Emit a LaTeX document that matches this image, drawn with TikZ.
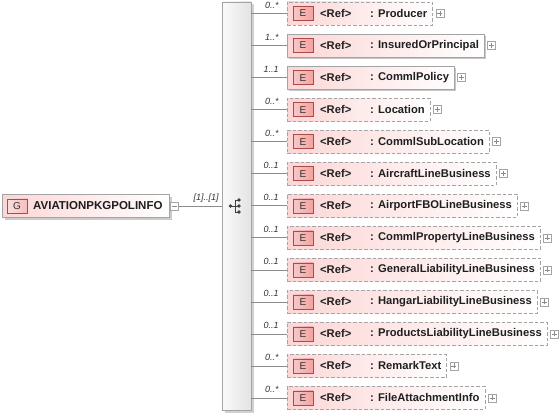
\documentclass[tikz,border=0pt]{standalone}
\usepackage{fontspec}
\setmainfont{Liberation Sans}
\usetikzlibrary{fit,calc,shadows}
\pgfdeclarelayer{background}
\pgfdeclarelayer{canvas}
\pgfsetlayers{canvas,background,main}
\definecolor{boxpink}{HTML}{FCD6D6}
\definecolor{badgefill}{HTML}{F4A2A2}
\definecolor{badgedraw}{HTML}{B04848}
\definecolor{linegray}{HTML}{8C8C8C}
\definecolor{bordergray}{HTML}{A4A4A4}
\tikzset{
  nametext/.style={font=\fontsize{11.2}{13}\selectfont\bfseries, text=black!88, inner sep=0, anchor=west},
  multtext/.style={font=\fontsize{9}{10}\selectfont\itshape, text=black!80, inner sep=0, anchor=south east},
  badge/.style={draw=badgedraw, left color=badgefill!60, right color=badgefill, minimum width=20, minimum height=14, inner sep=0, font=\fontsize{10}{12}\selectfont, text=black!80},
  itembox/.style={inner sep=0, minimum height=23, left color=boxpink, right color=white, draw=bordergray},
  optbox/.style={itembox, dash pattern=on 3.5pt off 2pt},
  reqbox/.style={itembox, drop shadow={shadow xshift=2pt, shadow yshift=-2pt, fill=black!22, opacity=1}},
  pmbox/.style={draw=bordergray, fill=white, minimum size=8, inner sep=0},
  plusbox/.style={pmbox, path picture={
      \draw[black!45] ([xshift=-2.5pt]path picture bounding box.center) -- ([xshift=2.5pt]path picture bounding box.center);
      \draw[black!45] ([yshift=-2.5pt]path picture bounding box.center) -- ([yshift=2.5pt]path picture bounding box.center);}},
  minusbox/.style={pmbox, path picture={
      \draw[black!45] ([xshift=-2.5pt]path picture bounding box.center) -- ([xshift=2.5pt]path picture bounding box.center);}},
  conn/.style={draw=linegray, line width=0.6pt},
  seqbar/.style={draw=bordergray, left color=gray!4, right color=gray!22, minimum width=29, minimum height=408, inner sep=0,
      drop shadow={shadow xshift=2.5pt, shadow yshift=-2.5pt, fill=black!18, opacity=1}},
  groupbox/.style={draw=bordergray, left color=boxpink, right color=white, minimum width=167, minimum height=23, inner sep=0,
      drop shadow={shadow xshift=2.5pt, shadow yshift=-2.5pt, fill=black!20, opacity=1}},
}
\begin{document}
\begin{tikzpicture}[x=1pt,y=-1pt]
\begin{pgfonlayer}{canvas}
  \fill[white] (0,0) rectangle (560,417);
\end{pgfonlayer}
\useasboundingbox (0,0) rectangle (560,417);

% sequence bar
\node[seqbar] (seq) at (236.5,206) {};
% sequence icon
\begin{scope}[black!75]
  \fill (230.5,206) circle (1.8);
  \draw[line width=0.9pt] (230.5,206) -- (235,206);
  \draw[line width=0.9pt] (235,200) -- (235,212);
  \foreach \yy in {200,206,212} {
    \draw[line width=0.9pt] (235,\yy) -- (238.5,\yy);
    \fill (239,\yy) circle (1.8);
  }
\end{scope}

% group node
\node[groupbox] (g) at (85.5,206) {};
\node[badge, left color=badgefill!35, right color=badgefill!70] (gb) at (17,206) {G};
\node[nametext, font=\fontsize{11.5}{13}\selectfont\bfseries] (gt) at (33,206) {AVIATIONPKGPOLINFO};
\node[minusbox] (gm) at (174,206) {};
\draw[conn] (gm.east) -- (seq.west |- gm.east) coordinate (sw);
\node[multtext] (gml) at ($(sw)+(-3,-3)$) {[1]..[1]};

% children
\foreach \i/\nm/\mu/\st in {
  1/Producer/{0..*}/optbox,
  2/InsuredOrPrincipal/{1..*}/reqbox,
  3/CommlPolicy/{1..1}/reqbox,
  4/Location/{0..*}/optbox,
  5/CommlSubLocation/{0..*}/optbox,
  6/AircraftLineBusiness/{0..1}/optbox,
  7/AirportFBOLineBusiness/{0..1}/optbox,
  8/CommlPropertyLineBusiness/{0..1}/optbox,
  9/GeneralLiabilityLineBusiness/{0..1}/optbox,
  10/HangarLiabilityLineBusiness/{0..1}/optbox,
  11/ProductsLiabilityLineBusiness/{0..1}/optbox,
  12/RemarkText/{0..*}/optbox,
  13/FileAttachmentInfo/{0..*}/optbox} {
  \pgfmathsetmacro{\yc}{13.5+32.04*(\i-1)}
  \node[badge] (e\i) at (303,\yc) {E};
  \node[nametext] (r\i) at (320,\yc) {<Ref>};
  \node[nametext] (n\i) at (370,\yc) {: \nm};
  \coordinate (bl\i) at (287,\yc);
  \coordinate (br\i) at ($(n\i.east)+(5,0)$);
  \begin{pgfonlayer}{background}
    \node[fit=(bl\i)(br\i), \st] (b\i) {};
  \end{pgfonlayer}
  \node[plusbox, anchor=west] (p\i) at ($(b\i.east)+(3,0)$) {};
  \draw[conn] (seq.east |- b\i.west) -- (b\i.west);
  \node[multtext] (m\i) at ($(b\i.west)+(-8,-5)$) {\mu};
}
\end{tikzpicture}
\end{document}
